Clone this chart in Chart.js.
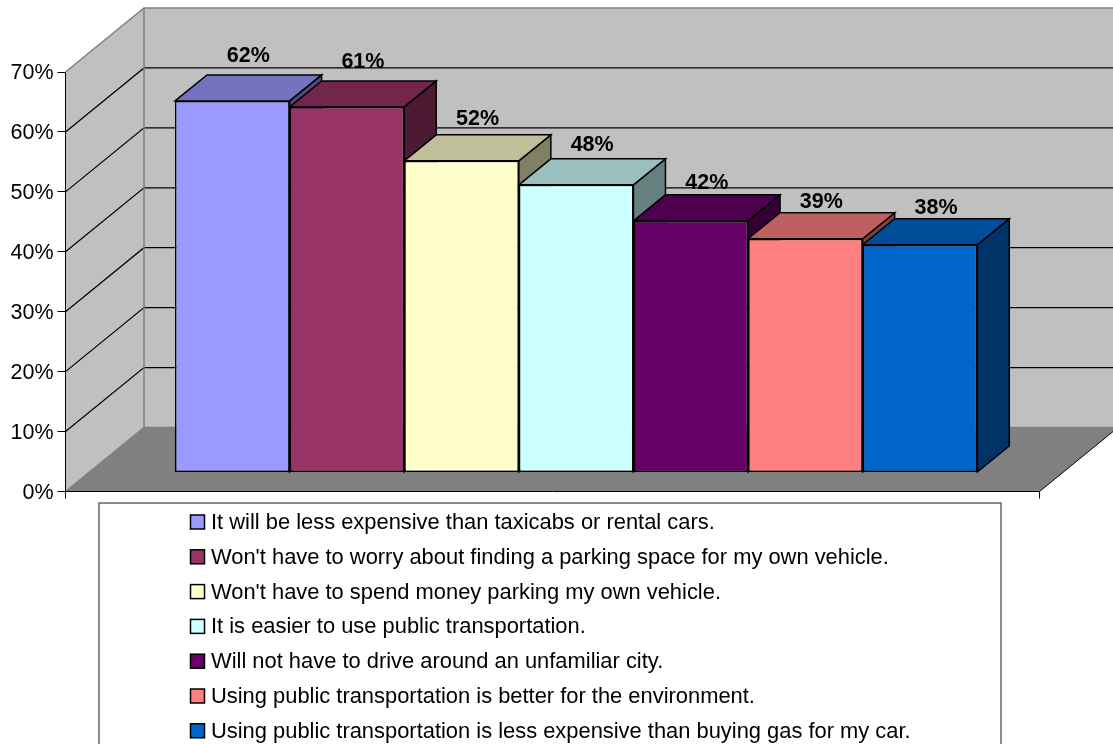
<!DOCTYPE html>
<html lang="en">
<head>
    <meta charset="UTF-8">
    <title>Reasons for using public transportation</title>
    <style>
        * { margin: 0; padding: 0; box-sizing: border-box; }
        body { background: white; }
        canvas { display: block; }
    </style>
    <script src="https://cdn.jsdelivr.net/npm/chart.js"></script>
</head>
<body>
    <canvas id="reasonsChart" width="1113" height="744"></canvas>
    <script>
        const reasons = [
            "It will be less expensive than taxicabs or rental cars.",
            "Won't have to worry about finding a parking space for my own vehicle.",
            "Won't have to spend money parking my own vehicle.",
            "It is easier to use public transportation.",
            "Will not have to drive around an unfamiliar city.",
            "Using public transportation is better for the environment.",
            "Using public transportation is less expensive than buying gas for my car."
        ];
        const percents = [62, 61, 52, 48, 42, 39, 38];
        const frontColors = ['#9999FF', '#993366', '#FFFFCC', '#CCFFFF', '#660066', '#FF8080', '#0066CC'];
        const topColors = ['#7373BF', '#73264D', '#BFBF99', '#99BFBF', '#4D004D', '#BF6060', '#004D99'];
        const sideColors = ['#4D4D80', '#4D1A33', '#808066', '#668080', '#330033', '#804040', '#003366'];

        const fontName = '"Liberation Sans", Arial, sans-serif';

        // how far the back wall sits behind the axis plane
        const wallDx = 78.5, wallDy = -64;
        // the bars stand part way into the floor
        const barDx = 23.65, barDy = -19;
        // depth of a single bar
        const depthX = 32, depthY = -26;

        function poly(ctx, pts, fill, stroke, lineWidth) {
            ctx.beginPath();
            pts.forEach((p, i) => i ? ctx.lineTo(p[0], p[1]) : ctx.moveTo(p[0], p[1]));
            ctx.closePath();
            if (fill) { ctx.fillStyle = fill; ctx.fill(); }
            if (stroke) { ctx.strokeStyle = stroke; ctx.lineWidth = lineWidth; ctx.stroke(); }
        }

        const box3d = {
            id: 'box3d',
            beforeDraw(chart) {
                const ctx = chart.ctx;
                const { left, right, top, bottom } = chart.chartArea;
                const y = chart.scales.y;
                ctx.save();
                poly(ctx, [[left, top], [left + wallDx, top + wallDy], [left + wallDx, bottom + wallDy], [left, bottom]], '#C0C0C0');
                poly(ctx, [[left + wallDx, top + wallDy], [right + wallDx, top + wallDy], [right + wallDx, bottom + wallDy], [left + wallDx, bottom + wallDy]], '#C0C0C0');
                poly(ctx, [[left, bottom], [left + wallDx, bottom + wallDy], [right + wallDx, bottom + wallDy], [right, bottom]], '#808080');

                // grid lines run across the left wall and the back wall
                ctx.strokeStyle = '#000';
                ctx.lineWidth = 1.2;
                y.ticks.forEach(t => {
                    if (t.value === 0 || t.value === 70) return;
                    const py = y.getPixelForValue(t.value);
                    ctx.beginPath();
                    ctx.moveTo(left, py);
                    ctx.lineTo(left + wallDx, py + wallDy);
                    ctx.lineTo(right + wallDx, py + wallDy);
                    ctx.stroke();
                });

                // wall edges
                ctx.strokeStyle = '#808080';
                ctx.lineWidth = 1.5;
                ctx.beginPath();
                ctx.moveTo(left, bottom);
                ctx.lineTo(left + wallDx, bottom + wallDy);
                ctx.lineTo(left + wallDx, top + wallDy);
                ctx.moveTo(left, top);
                ctx.lineTo(left + wallDx, top + wallDy);
                ctx.lineTo(right + wallDx, top + wallDy);
                ctx.moveTo(left + wallDx, bottom + wallDy);
                ctx.lineTo(right + wallDx, bottom + wallDy);
                ctx.stroke();
                ctx.strokeStyle = '#000';
                ctx.lineWidth = 1;
                ctx.beginPath();
                ctx.moveTo(right, bottom);
                ctx.lineTo(right + wallDx, bottom + wallDy);
                ctx.stroke();
                ctx.restore();
            },
            beforeDatasetsDraw(chart) {
                const ctx = chart.ctx;
                ctx.save();
                ctx.translate(barDx, barDy);
                // top and side faces, left to right; the library paints the fronts over them
                chart.data.datasets.forEach((ds, i) => {
                    const bar = chart.getDatasetMeta(i).data[0];
                    const l = bar.x - bar.width / 2, r = bar.x + bar.width / 2;
                    poly(ctx, [[r, bar.y], [r + depthX, bar.y + depthY], [r + depthX, bar.base + depthY], [r, bar.base]], sideColors[i], '#000', 1.5);
                    poly(ctx, [[l, bar.y], [l + depthX, bar.y + depthY], [r + depthX, bar.y + depthY], [r, bar.y]], topColors[i], '#000', 1.5);
                });
            },
            afterDatasetsDraw(chart) {
                const ctx = chart.ctx;
                ctx.restore();

                // value labels
                ctx.save();
                ctx.fillStyle = '#000';
                ctx.font = 'bold 21.5px ' + fontName;
                ctx.textAlign = 'center';
                ctx.textBaseline = 'middle';
                chart.data.datasets.forEach((ds, i) => {
                    const bar = chart.getDatasetMeta(i).data[0];
                    const h = bar.base - bar.y;
                    ctx.fillText(percents[i] + '%', bar.x + barDx + depthX / 2, bar.y + barDy + depthY - h * 0.056 + 2);
                });
                ctx.restore();

                // legend box
                ctx.save();
                ctx.fillStyle = '#fff';
                ctx.fillRect(99, 503, 902, 260);
                ctx.strokeStyle = '#666';
                ctx.lineWidth = 1.5;
                ctx.strokeRect(99, 503, 902, 260);
                ctx.font = '21.9px ' + fontName;
                ctx.textAlign = 'left';
                ctx.textBaseline = 'middle';
                chart.data.datasets.forEach((ds, i) => {
                    const rowY = 523 + i * 34.8;
                    ctx.fillStyle = ds.backgroundColor;
                    ctx.fillRect(190.5, rowY - 8, 14, 14);
                    ctx.strokeStyle = '#000';
                    ctx.lineWidth = 1.5;
                    ctx.strokeRect(190.5, rowY - 8, 14, 14);
                    ctx.fillStyle = '#000';
                    ctx.fillText(ds.label, 211, rowY);
                });
                ctx.restore();
            }
        };

        new Chart(document.getElementById('reasonsChart'), {
            type: 'bar',
            data: {
                labels: [''],
                datasets: reasons.map((r, i) => ({
                    label: r,
                    data: [percents[i]],
                    backgroundColor: frontColors[i],
                    borderColor: '#000',
                    borderWidth: 1.5,
                    borderSkipped: false,
                    clip: false
                }))
            },
            options: {
                responsive: false,
                animation: false,
                categoryPercentage: 0.8237,
                barPercentage: 1,
                layout: { padding: { top: 72, right: 73.5 } },
                plugins: { legend: { display: false }, title: { display: false }, tooltip: { enabled: false } },
                scales: {
                    x: {
                        afterFit(scale) { scale.height = 252.5; },
                        ticks: { display: false },
                        grid: { drawOnChartArea: false, color: '#000', tickLength: 7 },
                        border: { color: '#000' }
                    },
                    y: {
                        min: 0,
                        max: 70,
                        afterFit(scale) { scale.width = 65.5; },
                        ticks: {
                            stepSize: 10,
                            padding: 4,
                            labelOffset: 1.5,
                            color: '#000',
                            font: { family: fontName, size: 21.5 },
                            callback: v => v + '%'
                        },
                        grid: { drawOnChartArea: false, color: '#000', tickLength: 8 },
                        border: { color: '#000' }
                    }
                }
            },
            plugins: [box3d]
        });
    </script>
</body>
</html>
